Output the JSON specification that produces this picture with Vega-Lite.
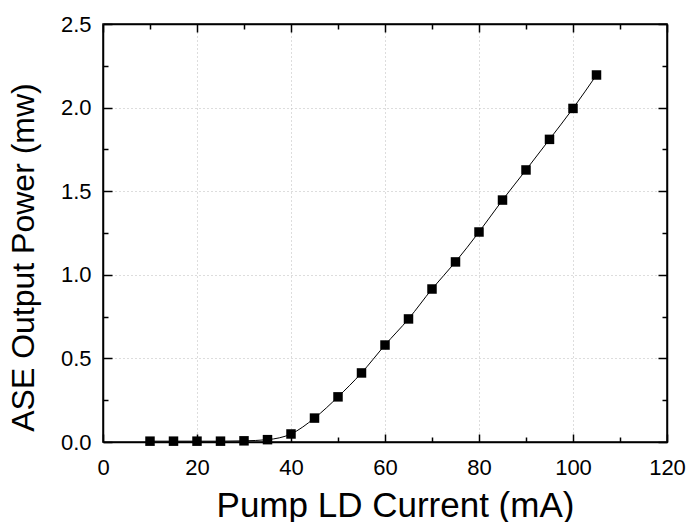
{
  "$schema": "https://vega.github.io/schema/vega-lite/v6.json",
  "width": 564,
  "height": 418,
  "autosize": "none",
  "padding": {"left": 103, "top": 24, "right": 22, "bottom": 80},
  "background": "white",
  "config": {
    "view": {"stroke": "black", "strokeWidth": 1.5},
    "axis": {
      "domainColor": "black",
      "domainWidth": 1.5,
      "tickColor": "black",
      "tickWidth": 1.5,
      "labelFont": "Liberation Sans",
      "labelFontSize": 22,
      "labelColor": "black",
      "titleFont": "Liberation Sans",
      "titleFontWeight": "normal",
      "titleColor": "black",
      "gridColor": "#bbbbbb",
      "gridDash": [1, 3],
      "gridWidth": 1,
      "labelFlush": false,
      "labelOverlap": false
    }
  },
  "data": {
    "values": [
      {"current": 10, "power": 0.005},
      {"current": 15, "power": 0.005},
      {"current": 20, "power": 0.005},
      {"current": 25, "power": 0.005},
      {"current": 30, "power": 0.007},
      {"current": 35, "power": 0.014},
      {"current": 40, "power": 0.048},
      {"current": 45, "power": 0.143},
      {"current": 50, "power": 0.27},
      {"current": 55, "power": 0.413},
      {"current": 60, "power": 0.58},
      {"current": 65, "power": 0.736},
      {"current": 70, "power": 0.915},
      {"current": 75, "power": 1.077},
      {"current": 80, "power": 1.256},
      {"current": 85, "power": 1.447},
      {"current": 90, "power": 1.627},
      {"current": 95, "power": 1.81},
      {"current": 100, "power": 1.995},
      {"current": 105, "power": 2.195}
    ]
  },
  "layer": [
    {
      "mark": {"type": "square", "size": 90, "color": "black", "opacity": 1, "filled": true},
      "encoding": {
        "x": {
          "field": "current", "type": "quantitative",
          "scale": {"domain": [0, 120], "nice": false},
          "axis": {
            "orient": "bottom", "title": "Pump LD Current (mA)", "titleFontSize": 35, "titlePadding": 10,
            "titleX": 292,
            "values": [0, 20, 40, 60, 80, 100, 120],
            "labelPadding": 23,
            "tickSize": -8,
            "grid": true
          }
        },
        "y": {
          "field": "power", "type": "quantitative",
          "scale": {"domain": [0, 2.5], "nice": false},
          "axis": {
            "orient": "left", "title": "ASE Output Power (mw)", "titleFontSize": 32, "titlePadding": 20,
            "titleY": 233,
            "values": [0, 0.5, 1, 1.5, 2, 2.5],
            "format": ".1f",
            "labelPadding": 21,
            "tickSize": -9,
            "grid": true
          }
        }
      }
    },
    {
      "mark": {"type": "line", "color": "black", "strokeWidth": 1, "interpolate": "monotone"},
      "encoding": {
        "x": {
          "field": "current", "type": "quantitative",
          "scale": {"domain": [0, 120], "nice": false},
          "axis": {
            "orient": "top", "labels": false, "title": null, "grid": false,
            "values": [0, 20, 40, 60, 80, 100, 120],
            "tickSize": -8
          }
        },
        "y": {
          "field": "power", "type": "quantitative",
          "scale": {"domain": [0, 2.5], "nice": false},
          "axis": {
            "orient": "right", "labels": false, "title": null, "grid": false,
            "values": [0, 0.5, 1, 1.5, 2, 2.5],
            "tickSize": -9
          }
        }
      }
    },
    {
      "mark": {"type": "point", "opacity": 0},
      "encoding": {
        "x": {
          "field": "current", "type": "quantitative",
          "scale": {"domain": [0, 120], "nice": false},
          "axis": {
            "orient": "bottom", "labels": false, "title": null, "grid": false, "domain": false,
            "values": [10, 30, 50, 70, 90, 110],
            "tickSize": -5
          }
        },
        "y": {
          "field": "power", "type": "quantitative",
          "scale": {"domain": [0, 2.5], "nice": false},
          "axis": {
            "orient": "left", "labels": false, "title": null, "grid": false, "domain": false,
            "values": [0.25, 0.75, 1.25, 1.75, 2.25],
            "tickSize": -5
          }
        }
      }
    },
    {
      "mark": {"type": "point", "opacity": 0},
      "encoding": {
        "x": {
          "field": "current", "type": "quantitative",
          "scale": {"domain": [0, 120], "nice": false},
          "axis": {
            "orient": "top", "labels": false, "title": null, "grid": false, "domain": false,
            "values": [10, 30, 50, 70, 90, 110],
            "tickSize": -5
          }
        },
        "y": {
          "field": "power", "type": "quantitative",
          "scale": {"domain": [0, 2.5], "nice": false},
          "axis": {
            "orient": "right", "labels": false, "title": null, "grid": false, "domain": false,
            "values": [0.25, 0.75, 1.25, 1.75, 2.25],
            "tickSize": -5
          }
        }
      }
    }
  ],
  "resolve": {"axis": {"x": "independent", "y": "independent"}}
}
